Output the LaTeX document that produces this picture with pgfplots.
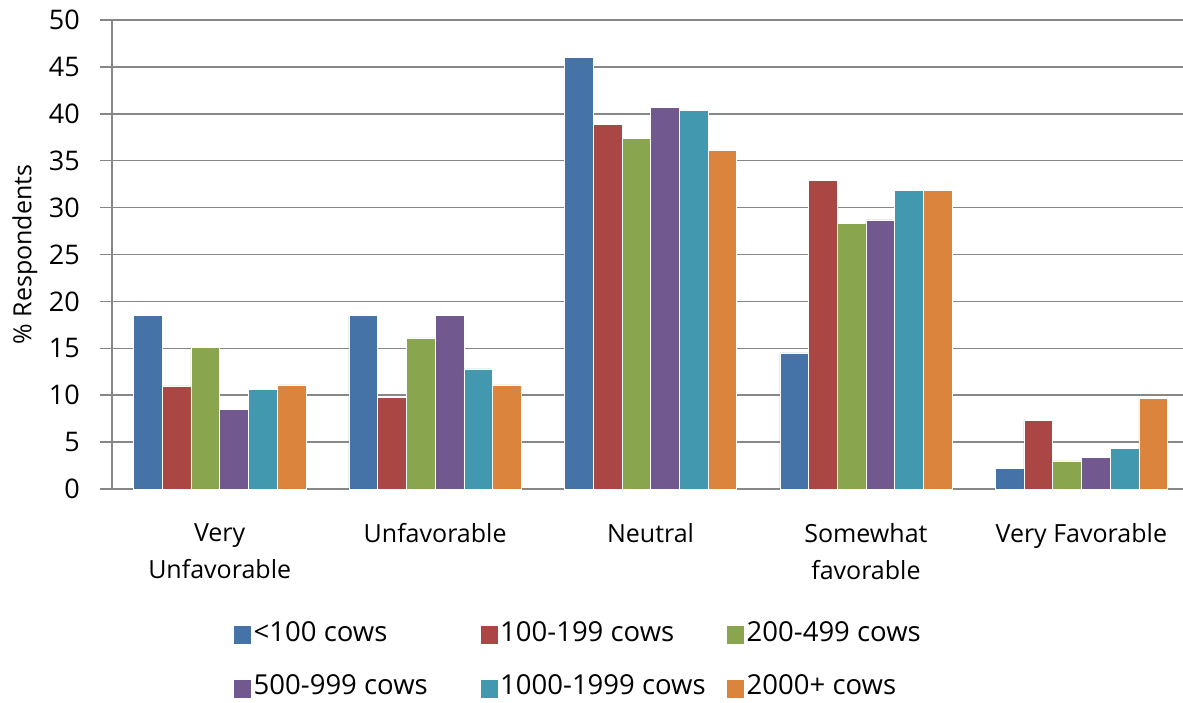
\documentclass[border=0pt]{standalone}
\usepackage{pgfplots}
\pgfplotsset{compat=1.18}
\usepackage{fontspec}
\setmainfont{Open Sans}
\definecolor{c1}{HTML}{4572A7}
\definecolor{c2}{HTML}{AA4643}
\definecolor{c3}{HTML}{89A54E}
\definecolor{c4}{HTML}{71588F}
\definecolor{c5}{HTML}{4198AF}
\definecolor{c6}{HTML}{DB843D}
\definecolor{gridc}{HTML}{878787}
\newcommand{\lt}[1]{\makebox[218pt][l]{\rule{0pt}{21pt}#1}}
\begin{document}
\fontsize{25}{37}\selectfont
\begin{tikzpicture}
\useasboundingbox (-112pt,-213pt) rectangle (1071pt,489pt);
\begin{axis}[
  scale only axis, width=1071pt, height=469pt,
  xmin=-0.5, xmax=4.472, ymin=0, ymax=50,
  ybar=0pt, bar width=0.1333,
  axis x line*=bottom, axis y line*=left,
  axis line style={gridc, line width=1.5pt},
  ytick={0,5,...,50},
  ymajorgrids, major grid style={gridc, line width=1.5pt},
  tick style={gridc, line width=1.5pt},
  tick align=outside,
  major tick length=12pt,
  xtick={0,1,2,3,4},
  xticklabels={Very\\Unfavorable, Unfavorable, Neutral, Somewhat\\favorable, Very Favorable},
  x tick style={draw=none},
  minor xtick={-0.5,0.5,1.5,2.5,3.5},
  minor x tick style={gridc, line width=1.5pt},
  minor tick length=8pt,
  xticklabel style={align=center, anchor=north, inner sep=0pt, yshift=-22pt, font=\fontsize{25}{37}\selectfont},
  yticklabel style={anchor=east, inner sep=0pt, xshift=-20pt, font=\fontsize{27}{30}\selectfont},
  /pgf/number format/assume math mode=true,
  ylabel={\% Respondents},
  every axis y label/.style={at={(axis description cs:0,0.5)}, xshift=-87pt, rotate=90, anchor=center, font=\fontsize{25}{30}\selectfont},
  legend columns=3,
  legend style={at={(rel axis cs:0.1130,-0.2751)}, anchor=north west, draw=none, fill=none, inner sep=0pt,
    /tikz/every even column/.append style={column sep=6pt},
    row sep=25pt, font=\fontsize{27.5}{30}\selectfont},
  legend cell align=left,
  legend image code/.code={\fill[#1] (0pt,-11.5pt) rectangle (18pt,7.5pt);},
]
\addplot[fill=c1, draw=white, line width=0.5pt] coordinates {(0,18.5) (1,18.5) (2,46.0) (3,14.5) (4,2.2)};
\addlegendentry{\lt{<100 cows}}
\addplot[fill=c2, draw=white, line width=0.5pt] coordinates {(0,11.0) (1,9.8) (2,38.9) (3,32.9) (4,7.3)};
\addlegendentry{\lt{100-199 cows}}
\addplot[fill=c3, draw=white, line width=0.5pt] coordinates {(0,15.1) (1,16.1) (2,37.4) (3,28.3) (4,3.0)};
\addlegendentry{\lt{200-499 cows}}
\addplot[fill=c4, draw=white, line width=0.5pt] coordinates {(0,8.5) (1,18.5) (2,40.7) (3,28.7) (4,3.4)};
\addlegendentry{\lt{500-999 cows}}
\addplot[fill=c5, draw=white, line width=0.5pt] coordinates {(0,10.6) (1,12.8) (2,40.4) (3,31.8) (4,4.3)};
\addlegendentry{\lt{1000-1999 cows}}
\addplot[fill=c6, draw=white, line width=0.5pt] coordinates {(0,11.1) (1,11.1) (2,36.1) (3,31.8) (4,9.7)};
\addlegendentry{\lt{2000+ cows}}
\end{axis}
\end{tikzpicture}
\end{document}
